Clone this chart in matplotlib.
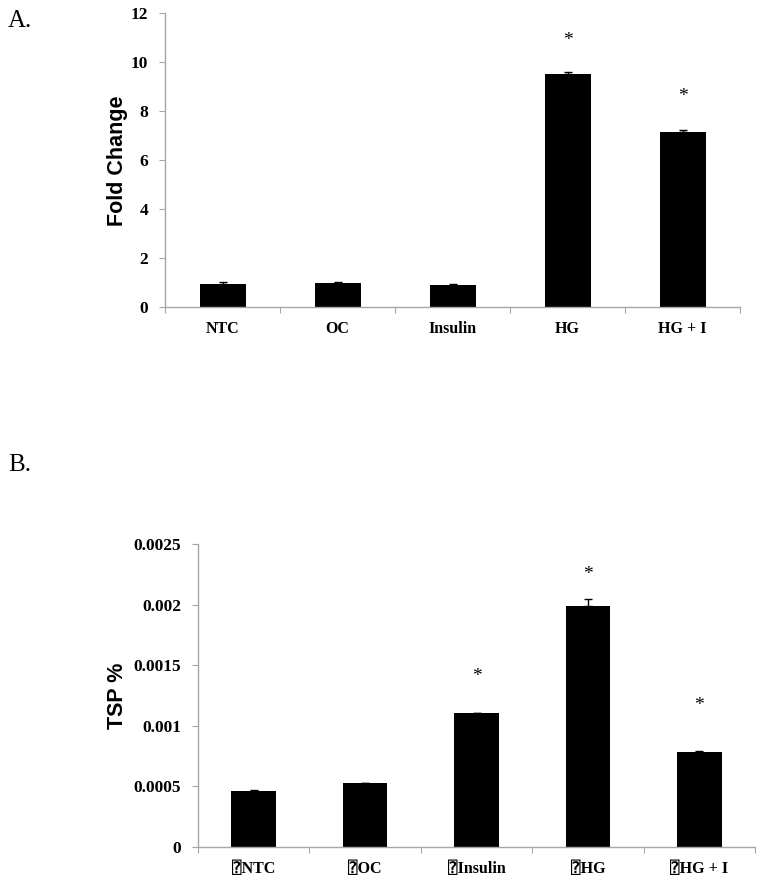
import numpy as np
import matplotlib
matplotlib.use('Agg')
import matplotlib.pyplot as plt

# Panel A data: fold change
catsA = ['NTC', 'OC', 'Insulin', 'HG', 'HG + I']
foldA = [0.97, 0.98, 0.91, 9.52, 7.16]
errA = [0.06, 0.05, 0.04, 0.08, 0.06]
starA = [None, None, None, 10.9, 8.6]

# Panel B data: TSP %
catsB = ['\u2370NTC', '\u2370OC', '\u2370Insulin', '\u2370HG', '\u2370HG + I']
tspB = [0.00046, 0.000524, 0.001103, 0.001985, 0.000786]
errB = [0.000014, 0.000005, 0.000004, 0.000063, 0.00001]
starB = [None, None, 0.00141, 0.00225, 0.00117]

yticksA = [0, 2, 4, 6, 8, 10, 12]
yticksB = [0, 0.0005, 0.001, 0.0015, 0.002, 0.0025]
ytlB = ['0', '0.0005', '0.001', '0.0015', '0.002', '0.0025']

W, H = 764, 881
serif = ['Liberation Serif', 'DejaVu Serif', 'DejaVu Sans', 'DejaVu Sans Mono']
axcol = '#a6a6a6'

fig = plt.figure(figsize=(W/100, H/100), dpi=100)

def px(l, t, r, b):
    return [l/W, 1 - b/H, (r-l)/W, (b-t)/H]

def style(ax, cats, vals, errs, stars, yticks, ytl, ylim, ylabel):
    x = np.arange(len(cats))
    ax.bar(x, vals, width=0.4, color='black', zorder=2)
    ax.errorbar(x, vals, yerr=[np.zeros(len(vals)), errs], fmt='none',
                ecolor='black', elinewidth=1, capsize=3, capthick=1, zorder=3)
    for xi, s in zip(x, stars):
        if s is not None:
            ax.text(xi, s, '*', ha='center', va='center', fontsize=14,
                    family=serif)
    ax.set_xlim(-0.5, len(cats) - 0.5)
    ax.set_ylim(*ylim)
    for sp in ['top', 'right']:
        ax.spines[sp].set_visible(False)
    for sp in ['left', 'bottom']:
        ax.spines[sp].set_color(axcol)
        ax.spines[sp].set_linewidth(1)
    ax.set_xticks(np.arange(-0.5, len(cats)), minor=False)
    ax.set_xticklabels([])
    ax.set_xticks(x, minor=True)
    ax.set_xticklabels(cats, minor=True, fontsize=11.5, fontweight='bold',
                       family=serif)
    ax.tick_params(axis='x', which='major', length=4, color=axcol, direction='out')
    ax.tick_params(axis='x', which='minor', length=0, pad=10)
    ax.set_yticks(yticks)
    ax.set_yticklabels(ytl, fontsize=12.5, fontweight='bold', family=serif)
    ax.tick_params(axis='y', length=4, color=axcol, direction='out', pad=8)
    ax.set_ylabel(ylabel, fontsize=15.5, fontweight='bold',
                  family='Liberation Sans', labelpad=14)

axA = fig.add_axes(px(165, 13.3, 740, 307.3))
style(axA, catsA, foldA, errA, starA, yticksA, [str(t) for t in yticksA],
      (0, 12), 'Fold Change')
axA.yaxis.set_label_coords(-0.065, 0.5)

axB = fig.add_axes(px(198, 544, 755, 847))
style(axB, catsB, tspB, errB, starB, yticksB, ytlB, (0, 0.0025), 'TSP %')
axB.yaxis.set_label_coords(-0.125, 0.5)

fig.text(8/W, 1 - 27/H, 'A.', fontsize=18, family=serif)
fig.text(8/W, 1 - 471/H, 'B.', fontsize=18, family=serif)

fig.savefig('out.png', dpi=100)
